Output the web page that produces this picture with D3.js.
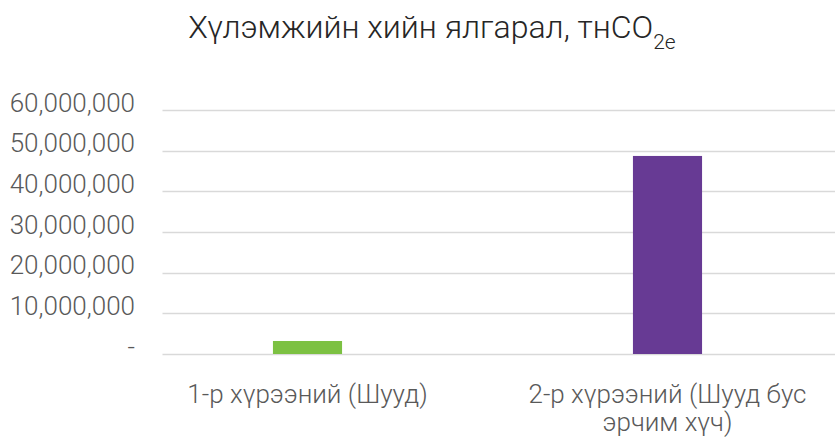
<!DOCTYPE html>
<html>
<head>
<meta charset="utf-8">
<script src="https://cdn.jsdelivr.net/npm/d3@7"></script>
<style>
  html, body { margin: 0; padding: 0; background: #fff; }
  svg { display: block; font-family: Roboto, "Noto Sans", sans-serif; font-weight: 300; }
</style>
</head>
<body>
<svg id="chart" width="835" height="438"></svg>
<script>
// chart data
const categories = ["1-р хүрээний (Шууд)", "2-р хүрээний (Шууд бус эрчим хүч)"];
const categoryLines = [["1-р хүрээний (Шууд)"], ["2-р хүрээний (Шууд бус", "эрчим хүч)"]];
const emissions = [3200000, 48700000];
const barColors = ["#7cc142", "#673a94"];
const yTicks = [0, 10000000, 20000000, 30000000, 40000000, 50000000, 60000000];

const svg = d3.select("#chart");
const width = 835;

// scales
const y = d3.scaleLinear().domain([0, 60000000]).range([354, 110]);
const x = d3.scaleBand().domain(categories).range([127.5, 847.5])
  .paddingInner(0.808).paddingOuter(0.404);

// title with subscript
const title = svg.append("text")
  .attr("x", 432)
  .attr("y", 38)
  .attr("text-anchor", "middle")
  .attr("fill", "#262626")
  .style("font-size", "32px");
title.append("tspan").text("Хүлэмжийн хийн ялгарал, тнCO");
title.append("tspan").attr("dy", 11).style("font-size", "21px").text("2e");

// gridlines
svg.append("g")
  .selectAll("line")
  .data(yTicks)
  .join("line")
  .attr("x1", 162.5)
  .attr("x2", width)
  .attr("y1", d => Math.round(y(d)) + 0.5)
  .attr("y2", d => Math.round(y(d)) + 0.5)
  .attr("stroke", "#d9d9d9")
  .attr("stroke-width", 1.5);

// y labels (accounting format, zero as dash)
const fmt = d3.format(",");
svg.append("g")
  .selectAll("text")
  .data(yTicks)
  .join("text")
  .attr("x", 135)
  .attr("y", d => y(d) + 1.5)
  .attr("text-anchor", "end")
  .attr("fill", "#595959")
  .style("font-size", "26px")
  .text(d => d === 0 ? "-" : fmt(d));

// bars
svg.append("g")
  .selectAll("rect")
  .data(emissions)
  .join("rect")
  .attr("x", (d, i) => x(categories[i]))
  .attr("width", x.bandwidth())
  .attr("y", d => y(d))
  .attr("height", d => y(0) - y(d))
  .attr("fill", (d, i) => barColors[i]);

// category labels
const cat = svg.append("g")
  .selectAll("text")
  .data(categories)
  .join("text")
  .attr("x", d => x(d) + x.bandwidth() / 2)
  .attr("y", 403)
  .attr("text-anchor", "middle")
  .attr("fill", "#595959")
  .style("font-size", "26px");
cat.selectAll("tspan")
  .data((d, i) => categoryLines[i])
  .join("tspan")
  .attr("x", function() { return this.parentNode.getAttribute("x"); })
  .attr("dy", (d, i) => i === 0 ? 0 : 28)
  .text(d => d);
</script>
</body>
</html>
